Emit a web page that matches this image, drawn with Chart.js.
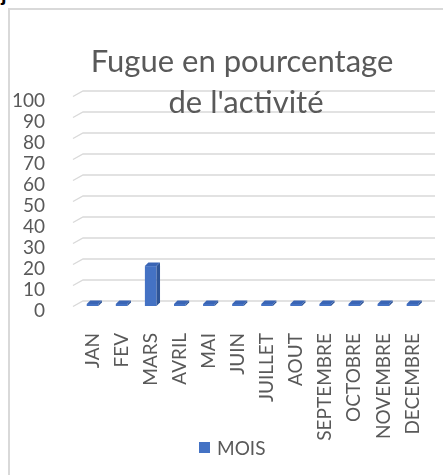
<!DOCTYPE html>
<html>
<head>
<meta charset="utf-8">
<script src="https://cdn.jsdelivr.net/npm/chart.js@4"></script>
<style>
  html, body { margin: 0; padding: 0; background: #fff; overflow: hidden; }
  #wrap { position: relative; width: 443px; height: 475px; }
  #frame { position: absolute; left: 8px; top: 8px; width: 460px; height: 480px;
           border-left: 2px solid #d9d9d9; border-top: 2px solid #d9d9d9; }
  #jj { position: absolute; left: 1px; top: -17px; font: bold 20px "Liberation Sans", sans-serif; color: #000; }
  canvas { position: absolute; left: 0; top: 0; }
  #legend { position: absolute; left: 199px; top: 436px; height: 22px; display: flex; align-items: center;
            font: 19px Lato, sans-serif; color: #595959; }
  #legend .box { width: 11px; height: 11px; background: #4472C4; margin-right: 7px; }
</style>
</head>
<body>
<div id="wrap">
  <div id="frame"></div>
  <div id="jj">j</div>
  <canvas id="c" width="443" height="475"></canvas>
  <div id="legend"><span class="box"></span><span id="legendText"></span></div>
</div>
<script>
const categories = ["JAN","FEV","MARS","AVRIL","MAI","JUIN","JUILLET","AOUT","SEPTEMBRE","OCTOBRE","NOVEMBRE","DECEMBRE"];
const seriesName = "MOIS";
const values = [0, 0, 19, 0, 0, 0, 0, 0, 0, 0, 0, 0];
const titleLines = ["Fugue en pourcentage", "de l'activité"];
const yMin = 0, yMax = 100, yStep = 10;

const FONT = "Lato";
const TXT = "#595959";

document.getElementById("legendText").textContent = seriesName;

const grid3d = {
  id: "grid3d",
  beforeDatasetsDraw(chart) {
    const { ctx, chartArea } = chart;
    const ys = chart.scales.y;
    ctx.save();
    ctx.strokeStyle = "#d9d9d9";
    ctx.lineWidth = 1.3;
    ys.ticks.forEach(t => {
      const y = ys.getPixelForValue(t.value);
      ctx.beginPath();
      ctx.moveTo(chartArea.left - 5, y + 0.5);
      ctx.lineTo(chartArea.left + 5, y - 5);
      ctx.lineTo(chartArea.right + 8, y - 5);
      ctx.stroke();
    });
    ctx.restore();
  }
};

const bar3d = {
  id: "bar3d",
  afterDatasetsDraw(chart) {
    const { ctx } = chart;
    const meta = chart.getDatasetMeta(0);
    const dx = 3.5, dy = -3.5;
    ctx.save();
    meta.data.forEach(el => {
      const p = el.getProps(["x", "y", "base", "width"], true);
      const l = p.x - p.width / 2, r = p.x + p.width / 2;
      ctx.fillStyle = "#2F5597";
      ctx.beginPath();
      ctx.moveTo(r, p.y); ctx.lineTo(r + dx, p.y + dy);
      ctx.lineTo(r + dx, p.base + dy); ctx.lineTo(r, p.base);
      ctx.closePath(); ctx.fill();
      ctx.fillStyle = "#3A65B5";
      ctx.beginPath();
      ctx.moveTo(l, p.y); ctx.lineTo(l + dx, p.y + dy);
      ctx.lineTo(r + dx, p.y + dy); ctx.lineTo(r, p.y);
      ctx.closePath(); ctx.fill();
    });
    ctx.restore();
  }
};

const titlePlugin = {
  id: "overlayTitle",
  afterDraw(chart) {
    const { ctx } = chart;
    ctx.save();
    ctx.fillStyle = TXT;
    ctx.font = "31px " + FONT;
    ctx.textAlign = "center";
    ctx.textBaseline = "middle";
    ctx.fillText(titleLines[0], 242, 62);
    ctx.fillText(titleLines[1], 246, 103);
    ctx.restore();
  }
};

new Chart(document.getElementById("c"), {
  type: "bar",
  data: {
    labels: categories,
    datasets: [{
      label: seriesName,
      data: values,
      backgroundColor: "#4472C4",
      borderWidth: 0,
      minBarLength: 2,
      barPercentage: 0.4,
      categoryPercentage: 1.0
    }]
  },
  options: {
    responsive: false,
    animation: false,
    devicePixelRatio: 1,
    layout: { padding: { left: 8, right: 16, top: 96, bottom: 33 } },
    scales: {
      y: {
        min: yMin, max: yMax,
        afterFit: s => { s.width = 70; },
        grid: { display: false },
        border: { display: false },
        ticks: { stepSize: yStep, autoSkip: false, color: TXT, padding: 25, font: { family: FONT, size: 19 }, labelOffset: 5 }
      },
      x: {
        afterFit: s => { s.height = 136; s.paddingRight = 0; },
        grid: { display: false },
        border: { display: false },
        ticks: { autoSkip: false, color: TXT, minRotation: 90, maxRotation: 90, padding: 19, font: { family: FONT, size: 19 } }
      }
    },
    plugins: {
      title: { display: false },
      tooltip: { enabled: false },
      legend: { display: false }
    }
  },
  plugins: [grid3d, bar3d, titlePlugin]
});
</script>
</body>
</html>
